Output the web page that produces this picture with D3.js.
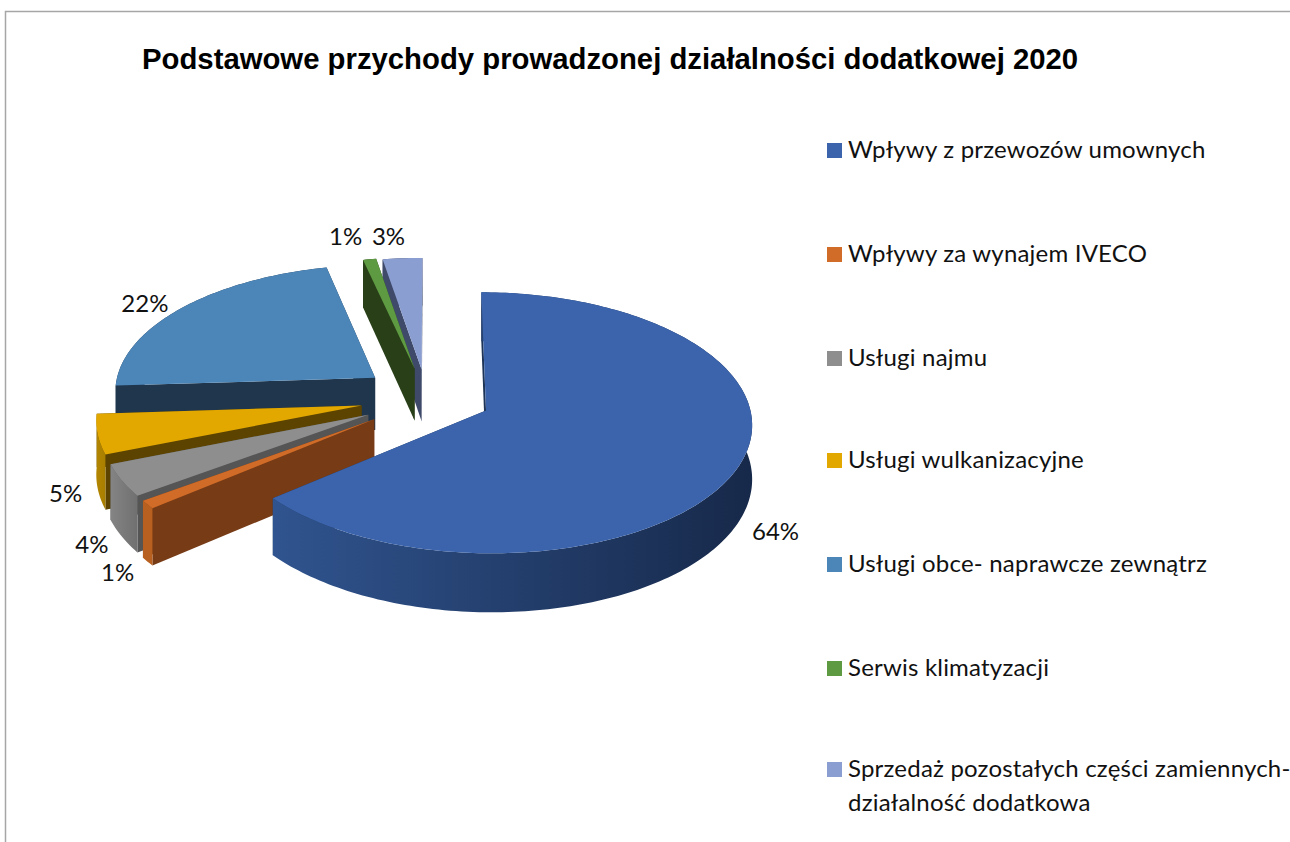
<!DOCTYPE html>
<html lang="pl">
<head>
<meta charset="utf-8">
<title>Podstawowe przychody</title>
<script src="https://cdn.jsdelivr.net/npm/d3@7/dist/d3.min.js"></script>
<style>
html,body{margin:0;padding:0;background:#fff;overflow:hidden}
svg{display:block}
</style>
</head>
<body>
<svg id="chart" width="1290" height="842"></svg>
<script>
// ---- data ----
const chartTitle = "Podstawowe przychody prowadzonej działalności dodatkowej 2020";
const categories = [
  "Wpływy z przewozów umownych",
  "Wpływy za wynajem IVECO",
  "Usługi najmu",
  "Usługi wulkanizacyjne",
  "Usługi obce- naprawcze zewnątrz",
  "Serwis klimatyzacji",
  "Sprzedaż pozostałych części zamiennych-\ndziałalność dodatkowa"
];
const shares = [64, 1, 4, 5, 22.4, 0.9, 2.7];

// ---- styles / layout ----
const topColors  = ["#3b64ac", "#d06c28", "#8e8e8e", "#e2a800", "#4c86b9", "#5e9a42", "#8b9ed1"];
const sideColors = ["#1f3558", "#773b16", "#555555", "#5c4400", "#20364d", "#283f18", "#3f4a6b"];
const rimStart   = ["#30548f", "#b8601f", "#848484", "#b38600", "#20364d", "#283f18", "#3f4a6b"];
const rimEnd     = ["#17294a", "#b8601f", "#707070", "#a87e00", "#20364d", "#283f18", "#3f4a6b"];
const explosion  = [0.23, 0.27, 0.27, 0.27, 0.27, 0.24, 0.23];
const sideShift  = [0, 0, 0, 0, 0, -0.017, -0.017];
const labelNudge = [[38,63],[-30,67],[-30,63],[-32,58],[-37,-5],[-24,-24],[-14,-23]];
const legendRowY = [150, 254, 358, 460, 564, 668, 769];
const paintOrder = [6, 5, 4, 3, 2, 1, 0];
const W = {cx:431, cy:398, rx:262, ry:127, k:0.093, depth:53};

const svg = d3.select("#chart");

// frame
svg.append("path").attr("d","M5.5 842V11.5H1290").attr("fill","none").attr("stroke","#a6a6a6").attr("stroke-width",1.5);

// title
svg.append("text").attr("x",142).attr("y",69)
  .attr("font-family","'Liberation Sans',Arial,sans-serif").attr("font-weight",700)
  .attr("font-size",29.3).attr("fill","#000").text(chartTitle);

// projection of a point on the disk to the screen
const project = (u, v, h=0) => {
  const s = 1/(1 + W.k*v);
  return [W.cx + W.rx*u*s, W.cy - W.ry*v*s + h*W.depth*s];
};

const pie = d3.pie().sort(null).startAngle(0).endAngle(2*Math.PI);
const arcs = pie(shares);
const line = d3.line();
const defs = svg.append("defs");

const rimPoint = (i, theta, rad=1) => [
  sideShift[i] + explosion[i]*Math.sin((arcs[i].startAngle+arcs[i].endAngle)/2) + rad*Math.sin(theta),
  explosion[i]*Math.cos((arcs[i].startAngle+arcs[i].endAngle)/2) + rad*Math.cos(theta)
];
const arcAngles = (a) => {
  const n = Math.max(4, Math.ceil((a.endAngle-a.startAngle)/0.02));
  return d3.range(n+1).map(j => a.startAngle + (a.endAngle-a.startAngle)*j/n);
};

const g = svg.append("g");
paintOrder.forEach(i => {
  const a = arcs[i];
  const apex = rimPoint(i, 0, 0);
  const angles = arcAngles(a);
  const topArc = angles.map(t => project(...rimPoint(i,t)));
  const botArc = angles.map(t => project(...rimPoint(i,t),1));
  const apexTop = project(...apex), apexBot = project(...apex,1);
  const first = topArc[0], firstB = botArc[0];
  const last = topArc[topArc.length-1], lastB = botArc[botArc.length-1];

  // gradient along the outer wall
  const x0 = d3.min(topArc,d=>d[0]), x1 = d3.max(topArc,d=>d[0]);
  const grad = defs.append("linearGradient").attr("id","rim"+i)
    .attr("gradientUnits","userSpaceOnUse").attr("x1",x0).attr("x2",x1).attr("y1",0).attr("y2",0);
  grad.append("stop").attr("offset",0).attr("stop-color",rimStart[i]);
  grad.append("stop").attr("offset",1).attr("stop-color",rimEnd[i]);

  const s = g.append("g").attr("class","slice");
  // radial walls
  s.append("path").attr("d",line([apexTop,last,lastB,apexBot])+"Z").attr("fill",sideColors[i]);
  s.append("path").attr("d",line([apexTop,first,firstB,apexBot])+"Z").attr("fill",sideColors[i]);
  // outer wall
  s.append("path").attr("d",line(topArc.concat(botArc.slice().reverse()))+"Z").attr("fill",`url(#rim${i})`);
  // top face
  s.append("path").attr("d",line([apexTop].concat(topArc))+"Z").attr("fill",topColors[i]);
});

// data labels
const labelFont = "Lato,'Open Sans',sans-serif";
arcs.forEach((a,i) => {
  const mid = (a.startAngle+a.endAngle)/2;
  const p = project(...rimPoint(i,mid));
  svg.append("text").attr("x",p[0]+labelNudge[i][0]).attr("y",p[1]+labelNudge[i][1])
    .attr("text-anchor","middle").attr("dominant-baseline","central")
    .attr("font-family",labelFont).attr("font-size",24).attr("fill","#111")
    .text(d3.format(".0%")(a.data/100));
});

// legend
categories.forEach((c,i) => {
  const y = legendRowY[i];
  svg.append("rect").attr("x",827).attr("y",y-7).attr("width",15).attr("height",15).attr("fill",topColors[i]);
  c.split("\n").forEach((t,j) => {
    svg.append("text").attr("x",848).attr("y",y-2+j*34).attr("dominant-baseline","central")
      .attr("font-family",labelFont).attr("font-size",24).attr("letter-spacing",0.2).attr("fill","#111").text(t);
  });
});
</script>
</body>
</html>
